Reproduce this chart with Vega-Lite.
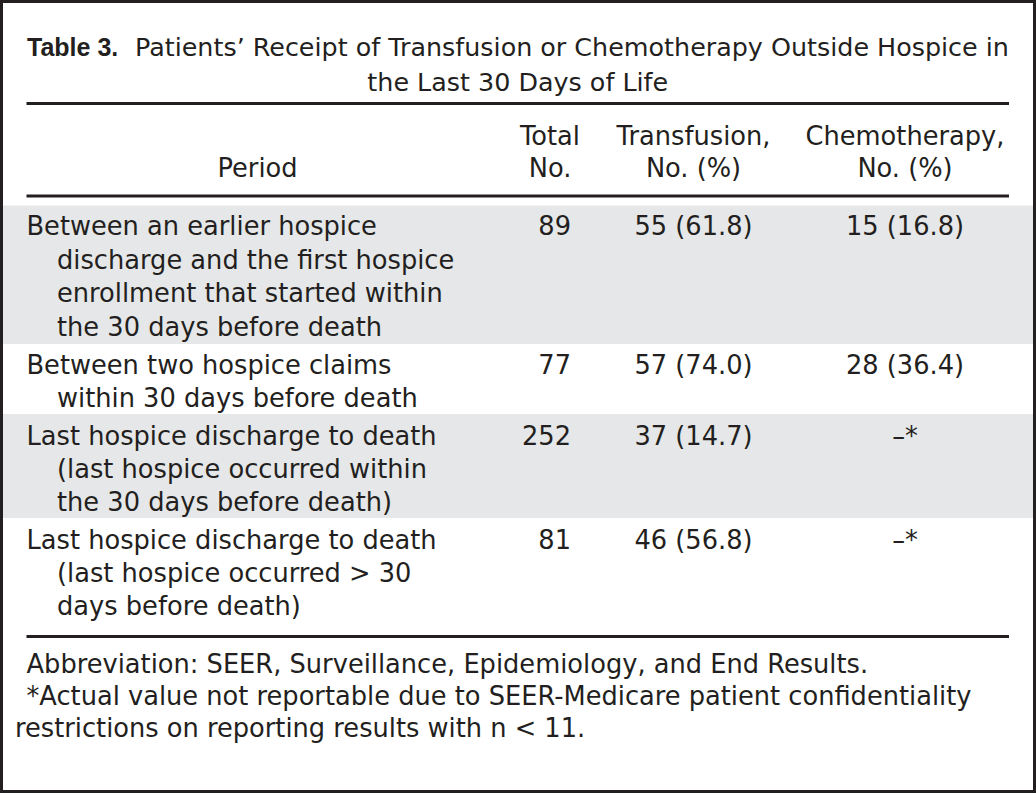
{
  "$schema": "https://vega.github.io/schema/vega-lite/v6.json",
  "width": 1036,
  "height": 793,
  "autosize": {"type": "none"},
  "padding": 0,
  "background": "white",
  "config": {
    "view": {"stroke": null},
    "text": {"font": "DejaVu Sans", "fontSize": 25.7, "color": "#231f20", "baseline": "alphabetic"}
  },
  "datasets": {
    "cells": [
      {"ln": 1, "col": 1, "part": "label", "text": "Table 3."},
      {"ln": 1, "col": 1, "part": "titlerest", "text": "Patients’ Receipt of Transfusion or Chemotherapy Outside Hospice in"},
      {"ln": 2, "col": 3, "part": "titlecenter", "text": "the Last 30 Days of Life"},
      {"ln": 3, "col": 4, "part": "head", "text": "Total"},
      {"ln": 3, "col": 5, "part": "head", "text": "Transfusion,"},
      {"ln": 3, "col": 6, "part": "head", "text": "Chemotherapy,"},
      {"ln": 4, "col": 2, "part": "head", "text": "Period"},
      {"ln": 4, "col": 4, "part": "head", "text": "No."},
      {"ln": 4, "col": 5, "part": "head", "text": "No. (%)"},
      {"ln": 4, "col": 6, "part": "head", "text": "No. (%)"},
      {"ln": 5, "col": 1, "part": "first", "text": "Between an earlier hospice"},
      {"ln": 6, "col": 1, "part": "cont", "text": "discharge and the first hospice"},
      {"ln": 7, "col": 1, "part": "cont", "text": "enrollment that started within"},
      {"ln": 8, "col": 1, "part": "cont", "text": "the 30 days before death"},
      {"ln": 5, "col": 4, "part": "total", "text": "89"},
      {"ln": 5, "col": 5, "part": "value", "text": "55 (61.8)"},
      {"ln": 5, "col": 6, "part": "value", "text": "15 (16.8)"},
      {"ln": 9, "col": 1, "part": "first", "text": "Between two hospice claims"},
      {"ln": 10, "col": 1, "part": "cont", "text": "within 30 days before death"},
      {"ln": 9, "col": 4, "part": "total", "text": "77"},
      {"ln": 9, "col": 5, "part": "value", "text": "57 (74.0)"},
      {"ln": 9, "col": 6, "part": "value", "text": "28 (36.4)"},
      {"ln": 11, "col": 1, "part": "first", "text": "Last hospice discharge to death"},
      {"ln": 12, "col": 1, "part": "cont", "text": "(last hospice occurred within"},
      {"ln": 13, "col": 1, "part": "cont", "text": "the 30 days before death)"},
      {"ln": 11, "col": 4, "part": "total", "text": "252"},
      {"ln": 11, "col": 5, "part": "value", "text": "37 (14.7)"},
      {"ln": 11, "col": 6, "part": "value", "text": "–*"},
      {"ln": 14, "col": 1, "part": "first", "text": "Last hospice discharge to death"},
      {"ln": 15, "col": 1, "part": "cont", "text": "(last hospice occurred > 30"},
      {"ln": 16, "col": 1, "part": "cont", "text": "days before death)"},
      {"ln": 14, "col": 4, "part": "total", "text": "81"},
      {"ln": 14, "col": 5, "part": "value", "text": "46 (56.8)"},
      {"ln": 14, "col": 6, "part": "value", "text": "–*"},
      {"ln": 17, "col": 1, "part": "note", "text": "Abbreviation: SEER, Surveillance, Epidemiology, and End Results."},
      {"ln": 18, "col": 1, "part": "note", "text": "*Actual value not reportable due to SEER-Medicare patient confidentiality"},
      {"ln": 19, "col": 0, "part": "note", "text": "restrictions on reporting results with n < 11."}
    ],
    "rules": [{"ln": 2.5}, {"ln": 4.5}, {"ln": 16.5}],
    "bands": [{"row": 1, "top": 4.75, "bottom": 8.5}, {"row": 3, "top": 10.5, "bottom": 13.5}]
  },
  "layer": [
    {
      "data": {"name": "bands"},
      "mark": {"type": "rect", "fill": "#e6e7e8"},
      "encoding": {
        "x": {"value": 0},
        "x2": {"value": "width"},
        "y": {"field": "top", "type": "quantitative", "axis": null,
              "scale": {"type": "linear", "nice": false, "zero": false,
                        "domain": [1, 2, 2.5, 3, 4, 4.5, 4.75, 5, 6, 7, 8, 8.5, 9, 10, 10.5, 11, 12, 13, 13.5, 14, 15, 16, 16.5, 17, 18, 19],
                        "range": [56, 91, 103.5, 145, 177, 196, 205.5, 235, 268.5, 302, 335.5, 344, 374, 407, 414, 445, 478, 511, 518, 549, 582, 615, 636.5, 673, 705, 737]}},
        "y2": {"field": "bottom"}
      }
    },
    {
      "data": {"name": "rules"},
      "mark": {"type": "rule", "stroke": "#231f20", "strokeWidth": 3},
      "encoding": {
        "x": {"datum": 1, "type": "quantitative", "axis": null,
              "scale": {"type": "linear", "nice": false, "zero": false,
                        "domain": [0, 1, 2, 3, 4, 5, 6, 7],
                        "range": [15, 26.5, 257.5, 517.75, 550, 693.5, 905, 1009]}},
        "x2": {"datum": 7},
        "y": {"field": "ln", "type": "quantitative", "axis": null}
      }
    },
    {
      "data": {"name": "cells"},
      "transform": [{"filter": "datum.part === 'label'"}],
      "mark": {"type": "text", "align": "left", "dx": 0.5, "font": "Liberation Sans", "fontWeight": "bold", "fontSize": 25},
      "encoding": {
        "x": {"field": "col", "type": "quantitative", "axis": null},
        "y": {"field": "ln", "type": "quantitative", "axis": null},
        "text": {"field": "text"}
      }
    },
    {
      "data": {"name": "cells"},
      "transform": [{"filter": "datum.part === 'titlerest'"}],
      "mark": {"type": "text", "align": "left", "dx": 108.5, "fontSize": 25.4},
      "encoding": {
        "x": {"field": "col", "type": "quantitative", "axis": null},
        "y": {"field": "ln", "type": "quantitative", "axis": null},
        "text": {"field": "text"}
      }
    },
    {
      "data": {"name": "cells"},
      "transform": [{"filter": "datum.part === 'titlecenter'"}],
      "mark": {"type": "text", "align": "center", "fontSize": 25.4},
      "encoding": {
        "x": {"field": "col", "type": "quantitative", "axis": null},
        "y": {"field": "ln", "type": "quantitative", "axis": null},
        "text": {"field": "text"}
      }
    },
    {
      "data": {"name": "cells"},
      "transform": [{"filter": {"field": "part", "oneOf": ["head", "value"]}}],
      "mark": {"type": "text", "align": "center"},
      "encoding": {
        "x": {"field": "col", "type": "quantitative", "axis": null},
        "y": {"field": "ln", "type": "quantitative", "axis": null},
        "text": {"field": "text"}
      }
    },
    {
      "data": {"name": "cells"},
      "transform": [{"filter": {"field": "part", "oneOf": ["first", "note"]}}],
      "mark": {"type": "text", "align": "left"},
      "encoding": {
        "x": {"field": "col", "type": "quantitative", "axis": null},
        "y": {"field": "ln", "type": "quantitative", "axis": null},
        "text": {"field": "text"}
      }
    },
    {
      "data": {"name": "cells"},
      "transform": [{"filter": "datum.part === 'cont'"}],
      "mark": {"type": "text", "align": "left", "dx": 30.5},
      "encoding": {
        "x": {"field": "col", "type": "quantitative", "axis": null},
        "y": {"field": "ln", "type": "quantitative", "axis": null},
        "text": {"field": "text"}
      }
    },
    {
      "data": {"name": "cells"},
      "transform": [{"filter": "datum.part === 'total'"}],
      "mark": {"type": "text", "align": "right", "dx": 21},
      "encoding": {
        "x": {"field": "col", "type": "quantitative", "axis": null},
        "y": {"field": "ln", "type": "quantitative", "axis": null},
        "text": {"field": "text"}
      }
    },
    {
      "data": {"values": [{"frame": 1}]},
      "mark": {"type": "rect", "fill": null, "stroke": "#231f20", "strokeWidth": 6},
      "encoding": {
        "x": {"value": 0},
        "x2": {"value": "width"},
        "y": {"value": 0},
        "y2": {"value": "height"}
      }
    }
  ]
}
